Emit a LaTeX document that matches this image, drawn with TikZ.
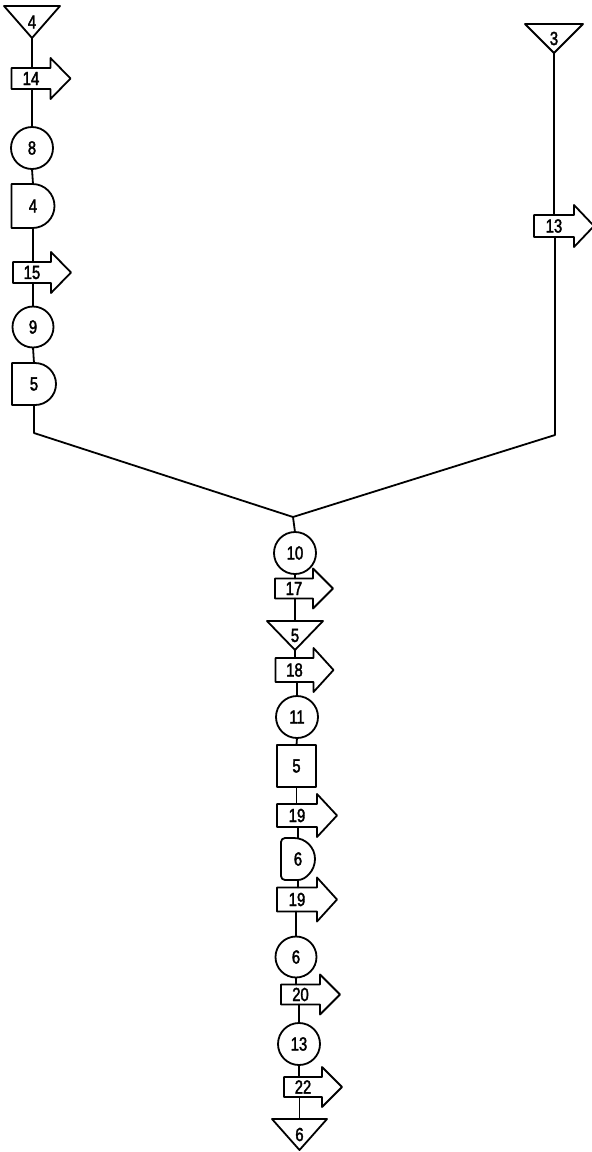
\documentclass[tikz,border=0pt]{standalone}
\usepackage{fontspec}
\newfontfamily\chartfont[FakeStretch=0.78,FakeBold=2]{Liberation Sans}
\usetikzlibrary{calc}

\tikzset{
  sym/.style={line width=1.8pt, line join=round, line cap=round},
  lbl/.style={font=\chartfont\fontsize{19pt}{19pt}\selectfont, inner sep=0pt, outer sep=0pt},
  opcircle/.style={lbl, sym, draw, circle, minimum size=#1},
  opsquare/.style={lbl, sym, draw, rectangle},
}

% transport: rectangular body holding the label, with an arrow head on the right
\newcommand\transport[5]{% name, centre, body width, body height, label
  \node[lbl, minimum width=#3, minimum height=#4] (#1) at #2 {#5};
  \draw[sym] (#1.north east) -- (#1.north west) -- (#1.south west) -- (#1.south east)
    -- ++(0,-10pt) -- ($(#1.east)+(20pt,0)$) -- ($(#1.north east)+(0,10pt)$) -- cycle;
}
% delay: flat left side, half disc on the right
\newcommand\delay[6][]{% [draw options], name, centre, width, height, label
  \node[lbl, minimum width=#4, minimum height=#5] (#2) at #3 {#6};
  \draw[sym,#1] ($(#2.north east)+(-#5/2,0)$) -- (#2.north west) -- (#2.south west)
    -- ($(#2.south east)+(-#5/2,0)$) arc[start angle=-90, end angle=90, radius=#5/2];
}
% storage: triangle standing on its apex
\newcommand\storage[5]{% name, centre, width, height, label
  \node[lbl, minimum width=#3, minimum height=#4] (#1) at #2 {#5};
  \draw[sym] (#1.north west) -- (#1.north east) -- (#1.south) -- cycle;
}

\begin{document}
\begin{tikzpicture}[x=1pt, y=-1pt]
\useasboundingbox (0,0) rectangle (592,1152);

% ---- left branch
\storage{t4}{(32,22)}{56pt}{32pt}{4}
\transport{a14}{(31,78.5)}{39pt}{21pt}{14}
\node[opcircle=42pt] (c8) at (32,148) {8};
\delay{d4}{(33,206)}{43pt}{44pt}{4}
\transport{a15}{(32,272.5)}{38pt}{21pt}{15}
\node[opcircle=41pt] (c9) at (33,327) {9};
\delay{d5}{(34,384)}{44pt}{42pt}{5}

% ---- right branch
\storage{t3}{(554,38.5)}{58pt}{29pt}{3}
\transport{a13}{(554,226)}{40pt}{22pt}{13}

% ---- main line
\node[opcircle=42pt] (c10) at (295,553) {10};
\transport{a17}{(294,588.5)}{38pt}{20pt}{17}
\storage{t5}{(295,635.5)}{56pt}{29pt}{5}
\transport{a18}{(294.5,670)}{38pt}{24pt}{18}
\node[opcircle=42pt] (c11) at (297,717) {11};
\node[opsquare, minimum width=39pt, minimum height=42pt] (sq5) at (296.5,766) {5};
\transport{a19a}{(297,815.5)}{40pt}{23pt}{19}
\delay[rounded corners=4pt]{d6a}{(298,859)}{34pt}{42pt}{6}
\transport{a19b}{(297,899.5)}{40pt}{24pt}{19}
\node[opcircle=41pt] (c6) at (296,957) {6};
\transport{a20}{(300.5,994.5)}{39pt}{20pt}{20}
\node[opcircle=42pt] (c13) at (299,1044) {13};
\transport{a22}{(303,1087)}{38pt}{20pt}{22}
\storage{t6}{(299.5,1134.5)}{55pt}{31pt}{6}

% ---- junction points
\coordinate (jl) at (34,433);
\coordinate (jr) at (555,435);
\coordinate (jm) at (293,517);

% ---- connecting lines
\draw[sym] (t4.south) -- (t4.south |- a14.north);
\draw[sym] (c8.north |- a14.south) -- (c8.north);
\draw[sym] (c8.south) -- (d4.north);
\draw[sym] (d4.south) -- (d4.south |- a15.north);
\draw[sym] (c9.north |- a15.south) -- (c9.north);
\draw[sym] (c9.south) -- (d5.north);
\draw[sym] (d5.south) -- (jl) -- (jm) -- (jr) -- (jr |- a13.south);
\draw[sym] (t3.south) -- (t3.south |- a13.north);
\draw[sym] (jm) -- (c10.north);
\draw[sym] (c10.south) -- (c10.south |- a17.north);
\draw[sym] (t5.north |- a17.south) -- (t5.north);
\draw[sym] (t5.south) -- (t5.south |- a18.north);
\draw[sym] (c11.north |- a18.south) -- (c11.north);
\draw[sym] (c11.south) -- (sq5.north);
\draw[sym] (sq5.south) -- (sq5.south |- a19a.north);
\draw[sym] (d6a.north |- a19a.south) -- (d6a.north);
\draw[sym] (d6a.south) -- (d6a.south |- a19b.north);
\draw[sym] (c6.north |- a19b.south) -- (c6.north);
\draw[sym] (c6.south) -- (c6.south |- a20.north);
\draw[sym] (c13.north |- a20.south) -- (c13.north);
\draw[sym] (c13.south) -- (c13.south |- a22.north);
\draw[sym] (t6.north |- a22.south) -- (t6.north);
\end{tikzpicture}
\end{document}
